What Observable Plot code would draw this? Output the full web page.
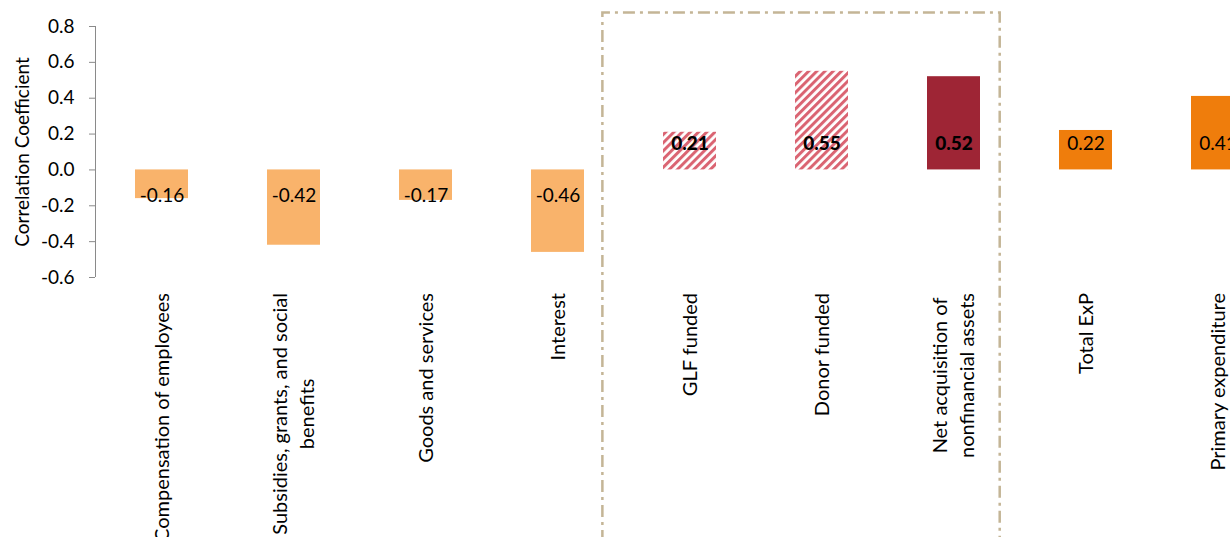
<!DOCTYPE html>
<html>
<head>
<meta charset="utf-8">
<script src="https://cdn.jsdelivr.net/npm/d3@7"></script>
<script src="https://cdn.jsdelivr.net/npm/@observablehq/plot@0.6"></script>
<style>
  html, body { margin: 0; padding: 0; background: #fff; overflow: hidden; }
  #wrap { width: 1230px; height: 537px; overflow: hidden; }
</style>
</head>
<body>
<div id="wrap"></div>
<script>
// ---- data ----
const categories = [
  "Compensation of employees",
  "Subsidies, grants, and social\nbenefits",
  "Goods and services",
  "Interest",
  "GLF funded",
  "Donor funded",
  "Net acquisition of\nnonfinancial assets",
  "Total ExP",
  "Primary expenditure"
];
const values = [-0.16, -0.42, -0.17, -0.46, 0.21, 0.55, 0.52, 0.22, 0.41];
const series = ["Economic", "Economic", "Economic", "Economic", "GLF funded", "Donor funded", "Capital", "Total", "Total"];
const boxed = ["GLF funded", "Donor funded", "Net acquisition of\nnonfinancial assets"];
const yTicks = [-0.6, -0.4, -0.2, 0, 0.2, 0.4, 0.6, 0.8];
const yTitle = "Correlation Coefficient";

// ---- styles ----
const fills = {
  "Economic": "#F9B36B",
  "GLF funded": "url(#hatch)",
  "Donor funded": "url(#hatch)",
  "Capital": "#9E2535",
  "Total": "#EF7D0C"
};
const FONT = "Lato, sans-serif";
const FS = 19;
const FS_CAT = 20;
const W = 1230, H = 537;

const data = categories.map((c, i) => ({category: c, value: values[i], series: series[i]}));

const plot = Plot.plot({
  width: W, height: H,
  marginLeft: 95, marginRight: 0, marginTop: 26, marginBottom: 260,
  style: {fontFamily: FONT, fontSize: FS + "px", color: "#000", background: "#fff", overflow: "hidden"},
  x: {domain: categories, range: [95, 95 + 9 * 132], paddingInner: 0.6, paddingOuter: 0.3, axis: null},
  y: {domain: [-0.6, 0.8]},
  color: {type: "identity"},
  marks: [
    Plot.barY(data, {x: "category", y: "value", fill: d => fills[d.series]}),
    Plot.axisY(yTicks, {tickFormat: d => d.toFixed(1), tickSize: 6, tickPadding: 15, stroke: "#8a8a8a", fill: "#000", fontSize: FS, label: null}),
    Plot.text(data.filter(d => !boxed.includes(d.category)), {
      x: "category", y: d => Math.sign(d.value) * 0.143, text: d => d.value.toFixed(2),
      fontSize: FS, fill: "#000"
    }),
    Plot.text(data.filter(d => boxed.includes(d.category)), {
      x: "category", y: d => Math.sign(d.value) * 0.143, text: d => d.value.toFixed(2),
      fontSize: FS, fontWeight: 900, fill: "#000"
    }),
    Plot.text([yTitle], {frameAnchor: "left", textAnchor: "middle", rotate: -90, dx: -73, fontSize: FS, fill: "#000"})
  ]
});
document.getElementById("wrap").appendChild(plot);

// ---- extras drawn with the plot's own scales ----
const svg = d3.select(plot);
const xs = plot.scale("x"), ys = plot.scale("y");
const step = xs.step, bw = xs.bandwidth;
const cx = c => xs.apply(c) + bw / 2;

// hatch pattern
const defs = svg.insert("defs", ":first-child");
const pat = defs.append("pattern")
  .attr("id", "hatch").attr("patternUnits", "userSpaceOnUse")
  .attr("width", 5.8).attr("height", 5.8).attr("patternTransform", "rotate(45)");
pat.append("rect").attr("width", 5.8).attr("height", 5.8).attr("fill", "#fff");
pat.append("rect").attr("width", 3).attr("height", 5.8).attr("fill", "#DA6472");

// y axis line
svg.append("line")
  .attr("x1", xs.range[0] + 0.5).attr("x2", xs.range[0] + 0.5)
  .attr("y1", ys.apply(0.8)).attr("y2", ys.apply(-0.6))
  .attr("stroke", "#8a8a8a");

// category labels (rotated, wrapped lines centered on longest line)
const labelTop = ys.apply(-0.6) + 16;
const lh = 27;
categories.forEach(c => {
  const lines = c.split("\n");
  const g = svg.append("g").attr("font-family", FONT).attr("font-size", FS_CAT).attr("fill", "#000");
  const texts = lines.map(l => g.append("text").attr("text-anchor", "middle").attr("dy", "0.35em").text(l));
  const maxW = d3.max(texts, t => t.node().getComputedTextLength());
  g.attr("transform", `translate(${cx(c)},${labelTop + maxW / 2}) rotate(-90)`);
  texts.forEach((t, i) => t.attr("y", (i - (lines.length - 1) / 2) * lh));
});

// dash-dot box around the capital components
const boxLeft = cx(boxed[0]) - 0.66 * step;
const boxRight = cx(boxed[2]) + 0.35 * step;
const boxTop = ys.apply(0.875);
svg.append("path")
  .attr("d", `M${boxLeft},${H + 5}V${boxTop}H${boxRight}V${H + 5}`)
  .attr("fill", "none").attr("stroke", "#C4B596").attr("stroke-width", 2.5)
  .attr("stroke-dasharray", "12 5 3 5");
</script>
</body>
</html>
